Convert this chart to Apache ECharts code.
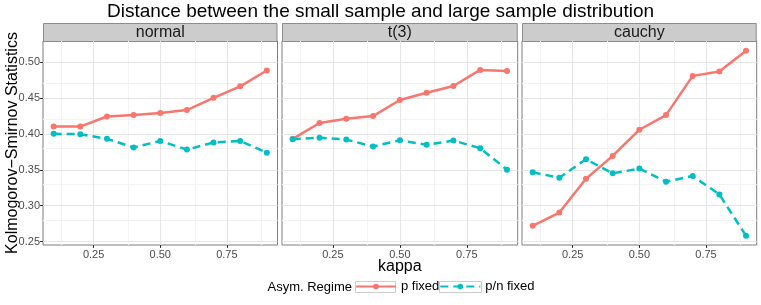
<!DOCTYPE html>
<html>
<head>
<meta charset="utf-8">
<script src="https://cdn.jsdelivr.net/npm/echarts@6/dist/echarts.min.js"></script>
<style>html,body{margin:0;padding:0;background:#fff}#c{width:761px;height:305px}</style>
</head>
<body>
<div id="c"></div>
<script>
const kappa = [0.1, 0.2, 0.3, 0.4, 0.5, 0.6, 0.7, 0.8, 0.9];
const facets = ['normal', 't(3)', 'cauchy'];
const normalPFixed  = [0.410, 0.410, 0.424, 0.426, 0.429, 0.433, 0.450, 0.466, 0.488];
const normalPNFixed = [0.400, 0.3995, 0.393, 0.381, 0.390, 0.378, 0.388, 0.390, 0.3735];
const t3PFixed      = [0.393, 0.415, 0.421, 0.4246, 0.447, 0.457, 0.4665, 0.4888, 0.4874];
const t3PNFixed     = [0.3925, 0.3944, 0.392, 0.3823, 0.391, 0.3846, 0.3906, 0.380, 0.350];
const cauchyPFixed  = [0.2721, 0.2905, 0.3376, 0.3693, 0.4056, 0.426, 0.4805, 0.4866, 0.5154];
const cauchyPNFixed = [0.3464, 0.339, 0.3646, 0.345, 0.3516, 0.3334, 0.3413, 0.3157, 0.2581];
const pFixed = [normalPFixed, t3PFixed, cauchyPFixed];
const pnFixed = [normalPNFixed, t3PNFixed, cauchyPNFixed];
const xTicks = [0.25, 0.50, 0.75];
const yTicks = [0.25, 0.30, 0.35, 0.40, 0.45, 0.50];
const xMinor = [0.125, 0.375, 0.625, 0.875];
const yMinor = [0.275, 0.325, 0.375, 0.425, 0.475, 0.525];
const seriesNames = ['p fixed', 'p/n fixed'];
const legendTitle = 'Asym. Regime';

const FONT = 'Liberation Sans, Arial, sans-serif';
const RED = '#F8766D', CYAN = '#00BFC4';
const panels = [
  {left: 43, width: 234.5},
  {left: 282, width: 235.7},
  {left: 522, width: 234.7}
];
const TOP = 41, HEIGHT = 204, STRIP_TOP = 23;

const grids = [], xAxes = [], yAxes = [], series = [], graphics = [];
const pair = (arr) => kappa.map((k, i) => [k, arr[i]]);
panels.forEach((p, i) => {
  grids.push({left: p.left, top: TOP, width: p.width, height: HEIGHT, show: true,
    backgroundColor: '#fff', borderColor: '#7F7F7F', borderWidth: 1});
  xAxes.push({type: 'value', gridIndex: i, min: 0.06, max: 0.94,
    axisLine: {show: false},
    axisTick: {show: true, customValues: xTicks, length: 3, lineStyle: {color: '#333'}},
    axisLabel: {customValues: xTicks, formatter: v => v.toFixed(2), color: '#4D4D4D', fontSize: 11, margin: 4, fontFamily: FONT},
    splitLine: {show: false},
    name: i === 1 ? 'kappa' : '', nameLocation: 'middle', nameGap: 14, nameMoveOverlap: false,
    nameTextStyle: {fontSize: 16, color: '#000', fontFamily: FONT, verticalAlign: 'top'}
  });
  yAxes.push({type: 'value', gridIndex: i, min: 0.2454, max: 0.529,
    axisLine: {show: false},
    axisTick: {show: i === 0, customValues: yTicks, length: 3, lineStyle: {color: '#333'}},
    axisLabel: {show: i === 0, customValues: yTicks, formatter: v => v.toFixed(2), color: '#4D4D4D', fontSize: 11, margin: 3, fontFamily: FONT},
    splitLine: {show: false},
    name: i === 0 ? 'Kolmogorov\u2212Smirnov Statistics' : '', nameLocation: 'middle', nameGap: 22, nameRotate: 90, nameMoveOverlap: false,
    nameTextStyle: {fontSize: 16, color: '#000', fontFamily: FONT, verticalAlign: 'bottom'}
  });
  const gl = [];
  xMinor.forEach(v => gl.push({xAxis: v, lineStyle: {color: '#F3F3F3', width: 1, type: 'solid'}}));
  yMinor.forEach(v => gl.push({yAxis: v, lineStyle: {color: '#F3F3F3', width: 1, type: 'solid'}}));
  xTicks.forEach(v => gl.push({xAxis: v, lineStyle: {color: '#E6E6E6', width: 1, type: 'solid'}}));
  yTicks.forEach(v => gl.push({yAxis: v, lineStyle: {color: '#E6E6E6', width: 1, type: 'solid'}}));
  series.push({type: 'line', name: seriesNames[0], xAxisIndex: i, yAxisIndex: i, data: pair(pFixed[i]),
    symbol: 'circle', symbolSize: 6, color: RED, lineStyle: {width: 2.5, color: RED}, itemStyle: {color: RED},
    animation: false, z: 3,
    markLine: {silent: true, symbol: ['none', 'none'], label: {show: false}, animation: false, z: 1, data: gl}
  });
  series.push({type: 'line', name: seriesNames[1], xAxisIndex: i, yAxisIndex: i, data: pair(pnFixed[i]),
    symbol: 'circle', symbolSize: 6, color: CYAN, lineStyle: {width: 2.5, color: CYAN, type: [8, 5]}, itemStyle: {color: CYAN},
    animation: false, z: 3
  });
  graphics.push({type: 'rect', shape: {x: p.left + 0.5, y: STRIP_TOP + 0.5, width: p.width - 1, height: TOP - STRIP_TOP},
    style: {fill: '#CCCCCC', stroke: '#8C8C8C', lineWidth: 1}, silent: true});
  graphics.push({type: 'text', x: p.left + p.width / 2, y: STRIP_TOP + (TOP - STRIP_TOP) / 2 + 1,
    style: {text: facets[i], fill: '#1A1A1A', font: '16px ' + FONT, textAlign: 'center', textVerticalAlign: 'middle'}, silent: true});
});
graphics.push({type: 'text', x: 352, y: 287, style: {text: legendTitle, fill: '#000', font: '13px ' + FONT, textAlign: 'right', textVerticalAlign: 'middle'}});
graphics.push({type: 'rect', shape: {x: 355.5, y: 281.5, width: 40, height: 11}, style: {fill: '#fff', stroke: '#CCCCCC', lineWidth: 1}, z: -1});
graphics.push({type: 'rect', shape: {x: 439.5, y: 281.5, width: 42, height: 11}, style: {fill: '#fff', stroke: '#CCCCCC', lineWidth: 1}, z: -1});

const chart = echarts.init(document.getElementById('c'), null, {renderer: 'canvas'});
chart.setOption({
  animation: false,
  backgroundColor: '#fff',
  textStyle: {fontFamily: FONT},
  title: {text: 'Distance between the small sample and large sample distribution', left: 'center', top: 0, padding: [2, 0, 0, 0],
    textStyle: {fontSize: 19, fontWeight: 'normal', color: '#000', fontFamily: FONT}},
  legend: {data: seriesNames, left: 355, top: 280, padding: 0, itemWidth: 40, itemHeight: 7, itemGap: 0,
    textStyle: {fontSize: 13, color: '#000', fontFamily: FONT}},
  grid: grids, xAxis: xAxes, yAxis: yAxes, series: series, graphic: graphics
});
</script>
</body>
</html>
